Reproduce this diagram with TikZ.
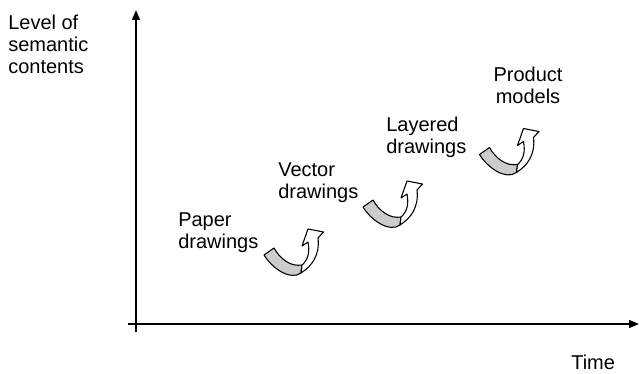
\documentclass[tikz,border=0pt]{standalone}
\usepackage{fontspec}
\setmainfont{Liberation Sans}
\usetikzlibrary{arrows.meta}
\tikzset{
    axis/.style={line width=1.1pt, -{Triangle[length=7.5pt, width=6pt]}},
    caption/.style={inner sep=0pt, align=left, font=\fontsize{15}{16.5}\selectfont},
    backband/.style={draw=black, line width=0.8pt, fill=gray!40, line join=round},
    frontarrow/.style={draw=black, line width=0.8pt, fill=white, line join=round},
    curlyarrow/.pic={
        \draw[backband] (0,0) .. controls (8,13) and (26,26) .. (37,18) -- (38,10) .. controls (27,12) and (16,4) .. (10,-7) -- cycle;
        \draw[frontarrow] (37,18) .. controls (48,11) and (56,0) .. (54,-17) -- (59.5,-23) -- (44,-26) -- (38,-9) -- (44,-13) .. controls (46,-3) and (44,5) .. (38,10) -- cycle;
    }
}

\begin{document}
\begin{tikzpicture}[x=0.75pt, y=-0.75pt]
    \useasboundingbox (0,0) rectangle (639,374);

    \coordinate (ybot) at (136,332);
    \coordinate (ytop) at (136,10);
    \coordinate (xleft) at (128,324);
    \coordinate (xright) at (639,324);
    \draw[axis] (ybot) -- (ytop);
    \draw[axis] (xleft) -- (xright);

    \node (ylabel) [caption, anchor=north west] at (8,15) {Level of\\semantic\\contents};
    \node (xlabel) [caption, anchor=north west] at (571,355) {Time};

    \node (paper) [caption, anchor=north west] at (178,212) {Paper\\drawings};
    \node (vector) [caption, anchor=north west] at (278,162) {Vector\\drawings};
    \node (layered) [caption, anchor=north west] at (386,117) {Layered\\drawings};
    \node (product) [caption, align=center, anchor=north] at (528,67) {Product\\models};

    % steps
    \pic at (264,255) {curlyarrow};
    \pic at (363,207) {curlyarrow};
    \pic at (479.5,154.5) {curlyarrow};
\end{tikzpicture}
\end{document}
